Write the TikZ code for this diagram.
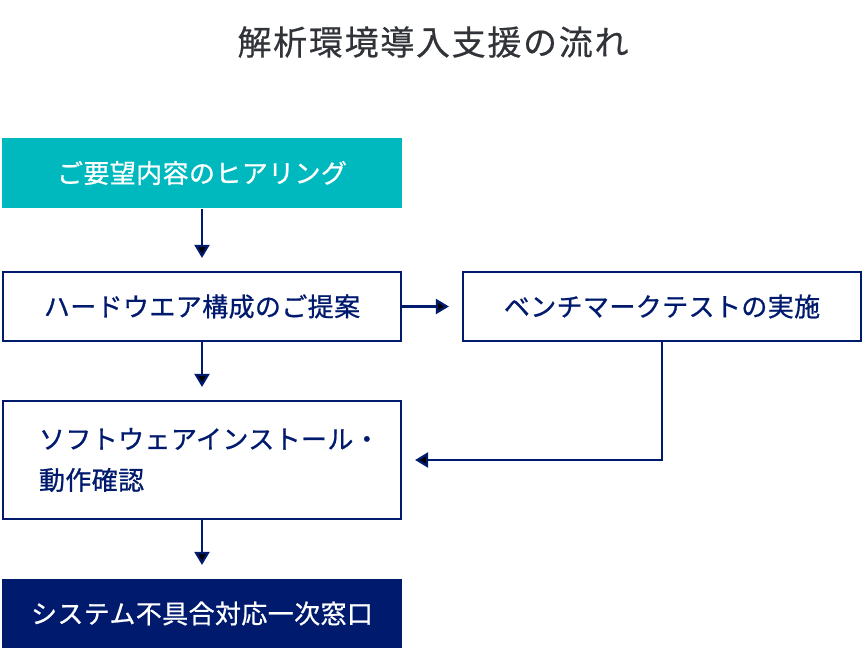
\documentclass[tikz,border=0pt]{standalone}
\usepackage{fontspec}
\usetikzlibrary{positioning, arrows.meta}

\newfontfamily\jpfont[LetterSpace=1.5, FakeBold=0.8]{Noto Sans CJK JP}
\newfontfamily\jptitlefont[LetterSpace=5, FakeBold=0.5]{Noto Sans CJK JP}
\definecolor{flowteal}{HTML}{00B9BE}
\definecolor{flownavy}{HTML}{001A6E}
\definecolor{titlegray}{HTML}{303338}

\begin{document}
\begin{tikzpicture}
	[x=1pt, y=1pt, on grid, node distance=133.5pt and 460pt,
	 box/.style={draw=flownavy, line width=2.2pt, fill=white, text=flownavy,
	   minimum width=398pt, minimum height=69pt, inner sep=0pt,
	   font=\jpfont\fontsize{26}{41}\selectfont},
	 tealbox/.style={box, draw=none, fill=flowteal, text=white,
	   minimum width=400pt, minimum height=70pt},
	 navybox/.style={box, draw=none, fill=flownavy, text=white,
	   minimum width=400pt, minimum height=69pt},
	 flow/.style={draw=flownavy, line width=2.2pt,
	   -{Triangle[width=15pt,length=13pt]}, shorten >=13pt}]
   \useasboundingbox (0,0) rectangle (864,-650);

   \node[font=\jptitlefont\fontsize{34}{36}\selectfont, text=titlegray] (title) at (433,-42) {解析環境導入支援の流れ};

   \node[tealbox] (hearing) at (202,-173) {ご要望内容のヒアリング};
   \node[box] (proposal) [below=of hearing] {ハードウエア構成のご提案};
   \node[box] (bench) [right=of proposal] {ベンチマークテストの実施};
   \node[box, minimum height=118pt, text width=326pt, align=left] (install) [below=153.5pt of proposal] {ソフトウェアインストール・\\動作確認};
   \node[navybox] (support) [below=153.5pt of install] {システム不具合対応一次窓口};

    \path[flow]
    (hearing) edge (proposal)
    (proposal) edge (bench)
    (proposal) edge (install)
    (install) edge (support)
    (bench) edge [to path={|- (\tikztotarget.east) \tikztonodes}] (install);
\end{tikzpicture}
\end{document}
